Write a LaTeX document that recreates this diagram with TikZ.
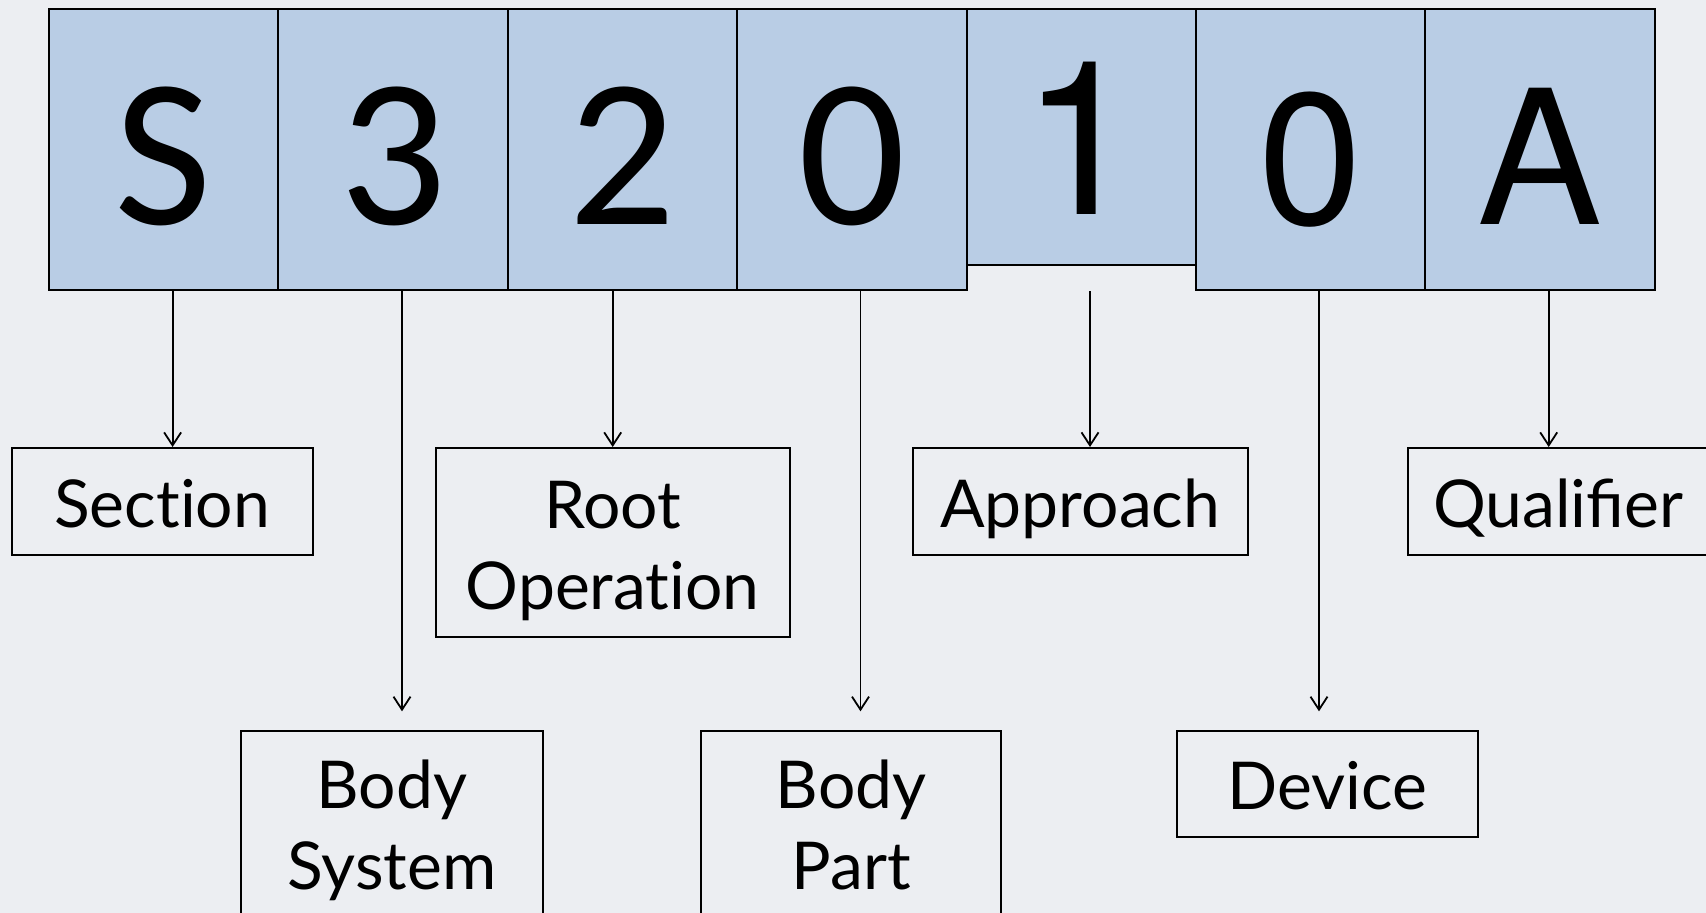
\documentclass[tikz,border=0pt]{standalone}
\usepackage{fontspec}
\setmainfont{Lato}[Ligatures=NoCommon]
\newfontfamily\ligfont{Lato}
\newfontfamily\codefontA{Carlito}
\newfontfamily\codefontB{TeX Gyre Heros}
\usetikzlibrary{arrows.meta}
\definecolor{pagebg}{HTML}{ECEEF2}
\definecolor{cellblue}{HTML}{B9CDE5}
\begin{document}
\begin{tikzpicture}[x=1pt,y=-1pt,
  cell/.style={draw=black, line width=2pt, fill=cellblue, inner sep=0pt,
    minimum width=229.4pt, minimum height=281.8pt, anchor=north west, text depth=0pt},
  calibricell/.style={cell, font=\codefontA\fontsize{212}{212}\selectfont, text height=149pt},
  arialcell/.style={cell, font=\codefontB\fontsize{187}{187}\selectfont, text height=149pt},
  labelbox/.style={draw=black, line width=2pt, inner sep=0pt, align=center,
    minimum width=301.3pt, font=\fontsize{66}{81}\selectfont, text depth=0pt},
  onebox/.style={labelbox, minimum height=106.5pt, text height=51.5pt},
  arr/.style={-{Straight Barb[length=13pt,width=17pt]}, line width=1.8pt}
]
\clip (0,0) rectangle (1706,913);
\fill[pagebg] (0,0) rectangle (1706,913);

% code characters
\node[calibricell] (c1) at (47.9,7.6) {S};
\node[calibricell] (c2) at (277.3,7.6) {3};
\node[calibricell] (c3) at (506.7,7.6) {2};
\node[calibricell] (c4) at (736.1,7.6) {0};
\node[cell, minimum height=256.8pt, text height=154pt,
      font=\codefontB\fontsize{215}{215}\selectfont] (c5) at (965.5,7.6) {1};
\node[arialcell] (c6) at (1194.9,7.6) {0};
\node[arialcell] (c7) at (1424.3,7.6) {A};

% meaning of each character
\node[onebox] (sec) at (162.15,501.25) {Section};
\node[labelbox, minimum width=354pt, minimum height=189pt, text height=133pt]
  (root) at (612.7,542.5) {Root\\Operation};
\node[onebox, minimum width=335pt] (appr) at (1080.2,501.25) {Approach};
\node[onebox, font=\ligfont\fontsize{66}{81}\selectfont] (qual) at (1558.15,501.25) {Qualifier};
\node[labelbox, minimum height=259.3pt, text height=57.3pt]
  (bsys) at (392,860.35) {Body\\System};
\node[labelbox, minimum width=300.4pt, minimum height=259.3pt, text height=57.3pt]
  (bpart) at (851.2,860.35) {Body\\Part};
\node[onebox, minimum width=301pt, minimum height=106pt] (dev) at (1327.5,783.7) {Device};

% connectors
\draw[arr] ([xshift=9pt]c1.south) -- ([xshift=9pt]c1.south |- sec.north);
\draw[arr, shorten >=18.4pt] ([xshift=9pt]c2.south) -- ([xshift=9pt]c2.south |- bsys.north);
\draw[arr] (root.north |- c3.south) -- (root.north);
\draw[arr, shorten >=18.4pt] ([xshift=8.7pt]c4.south) -- ([xshift=8.7pt]c4.south |- bpart.north);
\draw[arr] ([xshift=8.8pt]c5.south |- c4.south) -- ([xshift=8.8pt]c5.south |- appr.north);
\draw[arr, shorten >=18.4pt] ([xshift=8.4pt]c6.south) -- ([xshift=8.4pt]c6.south |- dev.north);
\draw[arr] ([xshift=8.7pt]c7.south) -- ([xshift=8.7pt]c7.south |- qual.north);
\end{tikzpicture}
\end{document}
